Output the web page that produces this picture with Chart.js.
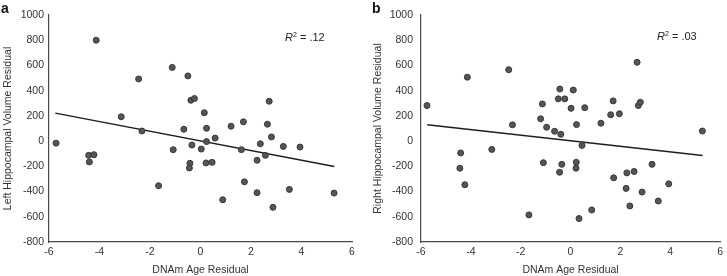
<!DOCTYPE html>
<html>
<head>
<meta charset="utf-8">
<script src="https://cdn.jsdelivr.net/npm/chart.js@4.4.1/dist/chart.umd.min.js"></script>
<style>
  html, body { margin: 0; padding: 0; background: #fff; }
  body { width: 727px; height: 276px; position: relative; overflow: hidden; font-family: "Liberation Sans", Arial, sans-serif; }
  canvas { position: absolute; top: 0; }
  .panel { position: absolute; font-weight: bold; font-size: 14px; color: #111; line-height: 14px; }
  .r2 { position: absolute; font-size: 11px; color: #222; line-height: 12px; white-space: nowrap; }
  .r2 sup { font-size: 7px; vertical-align: 4px; line-height: 0; }
</style>
</head>
<body>
<canvas id="cA" width="360" height="276" style="left:0"></canvas>
<canvas id="cB" width="367" height="276" style="left:360px"></canvas>
<div class="panel" style="left:1px;top:1px">a</div>
<div class="panel" style="left:372px;top:1px">b</div>
<div class="r2" style="left:285px;top:31px"><i>R</i><sup>2</sup> = .12</div>
<div class="r2" style="left:657px;top:30px"><i>R</i><sup>2</sup> = .03</div>
<script>
// ---- data ----
const xTicks = [-6, -4, -2, 0, 2, 4, 6];
const yTicks = [-800, -600, -400, -200, 0, 200, 400, 600, 800, 1000];

const leftX = [-4.13, -1.12, -0.50, -2.45, -0.38, -0.24, 0.15, -3.14, -0.66, 0.24, 1.21, 1.70, 2.72, 2.65,
  2.81, -2.32, 0.58, 0.24, -5.72, -4.43, -4.22, -4.40, -1.08, -0.34, 0.03, -0.42, -0.44, 0.22, 0.46,
  -1.66, 0.88, 1.62, 1.74, 2.24, 2.37, 2.57, 2.24, 2.87, 3.28, 3.52, 3.94, 5.29];
const leftY = [800, 584, 517, 493, 324, 338, 225, 193, 94, 102, 118, 153, 316, 134,
  33, 80, 24, -4, -16, -113, -108, -165, -68, -31, -63, -176, -213, -173, -168,
  -354, -465, -68, -323, -152, -21, -113, -409, -525, -42, -383, -47, -412];

const rightX = [-5.76, -4.14, -2.48, -2.33, -1.13, -1.20, -0.96, -0.64, -0.39, -0.49, -0.23, -0.43, 0.11, 0.02,
  0.24, 0.57, 1.22, 1.61, 1.96, 1.71, 2.67, 2.72, 2.80, 5.29,
  -4.41, -4.44, -4.24, -3.16, -1.09, -0.35, -0.44, 0.46, 0.23, 0.22, -1.67, 0.34, 0.85,
  1.73, 2.26, 2.55, 2.23, 3.27, 2.87, 2.38, 3.52, 3.94];
const rightY = [282, 507, 566, 129, 295, 177, 110, 78, 54, 335, 335, 413, 405, 260,
  131, 265, 142, 209, 217, 319, 625, 282, 308, 80,
  -94, -215, -346, -66, -171, -184, -247, -34, -168, -215, -585, -614, -546,
  -291, -252, -241, -375, -184, -404, -514, -475, -339];

const fitLeftX = [-5.75, 5.3];
const fitLeftY = [222, -202];
const fitRightX = [-5.75, 5.3];
const fitRightY = [130, -115];

// ---- drawing ----
const FONT = { family: '"Liberation Sans", Arial, sans-serif', size: 10.5 };

function pts(xs, ys) { return xs.map((x, i) => ({ x: x, y: ys[i] })); }

function makeChart(id, xs, ys, fx, fy, yTitle, yWidth, titlePad, tickPad, padRight) {
  return new Chart(document.getElementById(id), {
    type: 'scatter',
    data: {
      datasets: [
        {
          data: pts(xs, ys),
          backgroundColor: '#555555',
          borderColor: '#383838',
          borderWidth: 1,
          pointRadius: 3,
          pointHoverRadius: 3
        },
        {
          type: 'line',
          data: pts(fx, fy),
          showLine: true,
          borderColor: '#1e1e1e',
          borderWidth: 1.5,
          pointRadius: 0,
          fill: false
        }
      ]
    },
    options: {
      responsive: false,
      animation: false,
      devicePixelRatio: 1,
      layout: { padding: { top: 15, right: padRight, left: 0, bottom: 0 } },
      plugins: { legend: { display: false }, tooltip: { enabled: false } },
      scales: {
        x: {
          type: 'linear',
          min: xTicks[0], max: xTicks[xTicks.length - 1],
          afterBuildTicks: s => { s.ticks = xTicks.map(v => ({ value: v })); },
          afterFit: s => { s.height = 34; },
          grid: { display: false, drawTicks: false },
          border: { display: true, color: '#4a4a4a', width: 1.2 },
          ticks: { color: '#333333', font: FONT, padding: 4, maxRotation: 0, callback: v => String(v) },
          title: { display: true, text: 'DNAm Age Residual', color: '#333333', font: FONT, padding: { top: 2, bottom: 0 } }
        },
        y: {
          type: 'linear',
          min: yTicks[0], max: yTicks[yTicks.length - 1],
          afterBuildTicks: s => { s.ticks = yTicks.map(v => ({ value: v })); },
          afterFit: s => { s.width = yWidth; },
          grid: { display: false, drawTicks: false },
          border: { display: true, color: '#4a4a4a', width: 1.2 },
          ticks: { color: '#333333', font: FONT, padding: tickPad, callback: v => String(v) },
          title: { display: true, text: yTitle, color: '#333333', font: FONT, padding: { top: titlePad, bottom: 0 } }
        }
      }
    }
  });
}

makeChart('cA', leftX, leftY, fitLeftX, fitLeftY, 'Left Hippocampal Volume Residual', 49, 1.5, 5, 8);
makeChart('cB', rightX, rightY, fitRightX, fitRightY, 'Right Hippocampal Volume Residual', 61, 11.5, 8, 3);
</script>
</body>
</html>
